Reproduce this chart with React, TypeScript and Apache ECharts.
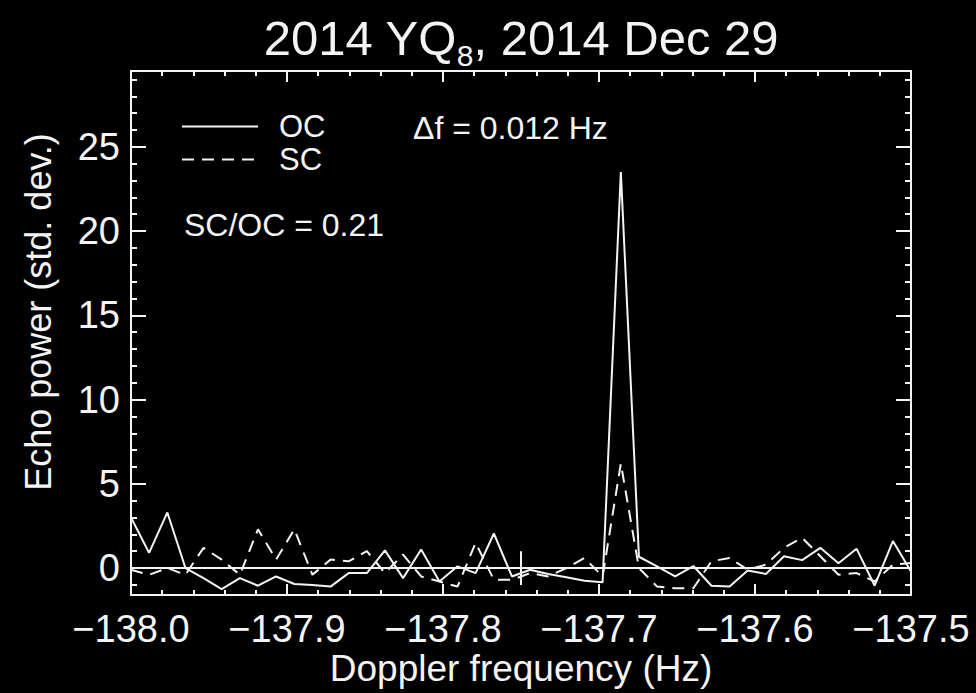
import React, { useEffect, useRef } from "react";
import * as echarts from "echarts";

// ---- texts ----
const TITLE_MAIN = "2014 YQ";
const TITLE_SUB = "8";
const TITLE_REST = ", 2014 Dec 29";
const X_NAME = "Doppler frequency (Hz)";
const Y_NAME = "Echo power (std. dev.)";
const SERIES_NAMES = ["OC", "SC"];
const NOTE_DF = "\u0394f = 0.012 Hz";
const NOTE_RATIO = "SC/OC = 0.21";

// ---- axes ----
const X_MIN = -138.0;
const X_MAX = -137.5;
const X_STEP = 0.1;
const Y_MIN = -1.6;
const Y_MAX = 29.5;
const Y_MAJOR = [0, 5, 10, 15, 20, 25];
const Y_MINOR = [-1, 1, 2, 3, 4, 6, 7, 8, 9, 11, 12, 13, 14, 16, 17, 18, 19, 21, 22, 23, 24, 26, 27, 28, 29];

// ---- data ----
const FREQ = [
  -138.0, -137.9884, -137.9767, -137.9651, -137.9535, -137.9419, -137.9302, -137.9186,
  -137.907, -137.8953, -137.8837, -137.8721, -137.8605, -137.8488, -137.8372, -137.8256,
  -137.814, -137.8023, -137.7907, -137.7791, -137.7674, -137.7558, -137.7442, -137.7326,
  -137.7209, -137.7093, -137.6977, -137.686, -137.6744, -137.6628, -137.6512, -137.6395,
  -137.6279, -137.6163, -137.6047, -137.593, -137.5814, -137.5698, -137.5581, -137.5465,
  -137.5349, -137.5233, -137.5116, -137.5,
];
const OC = [
  3.0, 0.9, 3.3, 0.0, -0.6, -1.25, -0.6, -1.05,
  -0.5, -0.95, -1.0, -1.1, -0.3, -0.3, 1.05, -0.6,
  1.1, -0.8, 0.1, -0.3, 2.05, -0.5, -0.1, -0.35,
  -0.55, -0.75, -0.85, 23.5, 0.67, 0.1, -0.5, 0.12,
  -1.05, -1.1, -0.15, -0.35, 0.7, 0.47, 1.2, 0.28,
  1.15, -1.05, 1.6, -0.2,
];
const SC = [
  -0.1, -0.4, 0.0, -0.4, 1.2, 0.5, -0.4, 2.3,
  0.5, 2.3, -0.4, 0.5, 0.4, 1.0, -0.3, 0.8,
  -0.5, -0.8, -1.1, 1.5, -0.7, -0.7, -0.3, -0.5,
  0.0, 0.6, -0.5, 6.2, 0.0, -1.1, -1.2, -1.2,
  0.4, 0.6, -0.1, 0.2, 1.2, 1.8, 0.7, -0.4,
  -0.3, -0.8, 0.2, 0.3,
];
const MARKER_FREQ = -137.75;
const MARKER_SPAN = [-1.0, 1.0];

const WHITE = "#f4f4f4";
const FONT = "'Liberation Sans', Arial, Helvetica, sans-serif";

const fmtX = (v: number) => v.toFixed(1).replace("-", "\u2212");

function xAxis(pos: "bottom" | "top", labels: boolean): any {
  return {
    type: "value",
    position: pos,
    min: X_MIN,
    max: X_MAX,
    interval: X_STEP,
    splitLine: { show: false },
    axisLine: { show: true, onZero: false, lineStyle: { color: WHITE, width: 2 } },
    axisTick: { show: true, inside: true, length: 11, lineStyle: { color: WHITE, width: 2 } },
    minorTick: { show: true, splitNumber: 5, length: 5, lineStyle: { color: WHITE, width: 2 } },
    axisLabel: {
      show: labels,
      color: WHITE,
      fontSize: 38,
      fontFamily: FONT,
      margin: 15,
      formatter: fmtX,
    },
    name: labels ? X_NAME : "",
    nameLocation: "middle",
    nameGap: 55,
    nameMoveOverlap: false,
    nameTextStyle: { color: WHITE, fontSize: 37, fontFamily: FONT },
  };
}

function yAxis(pos: "left" | "right", major: boolean, labels: boolean): any {
  const ticks = major ? Y_MAJOR : Y_MINOR;
  return {
    type: "value",
    position: pos,
    min: Y_MIN,
    max: Y_MAX,
    splitLine: { show: false },
    axisLine: { show: major, onZero: false, lineStyle: { color: WHITE, width: 2 } },
    axisTick: {
      show: true,
      inside: true,
      customValues: ticks,
      length: major ? 15 : 6,
      lineStyle: { color: WHITE, width: 2 },
    },
    axisLabel: {
      show: labels,
      customValues: ticks,
      color: WHITE,
      fontSize: 38,
      fontFamily: FONT,
      margin: 11,
    },
    name: labels ? Y_NAME : "",
    nameLocation: "middle",
    nameRotate: 90,
    nameGap: 75,
    nameMoveOverlap: false,
    nameTextStyle: { color: WHITE, fontSize: 36, fontFamily: FONT, padding: [0, 0, 0, 42] },
  };
}

export default function App() {
  const ref = useRef<HTMLDivElement>(null);
  useEffect(() => {
    document.body.style.margin = "0";
    document.body.style.background = "#000";
    const chart = echarts.init(ref.current as HTMLDivElement, undefined, { renderer: "svg" });
    chart.setOption({
      animation: false,
      backgroundColor: "#000",
      title: {
        text: `${TITLE_MAIN}{sub|${TITLE_SUB}}${TITLE_REST}`,
        left: 516,
        top: 1,
        textAlign: "center",
        textStyle: {
          color: WHITE,
          fontSize: 49,
          fontWeight: "normal",
          fontFamily: FONT,
          rich: {
            sub: { color: WHITE, fontSize: 30, fontFamily: FONT, padding: [34, 0, 0, 0] },
          },
        },
      },
      grid: {
        left: 131,
        top: 71,
        width: 780,
        height: 524,
        containLabel: false,
        outerBoundsMode: "none",
      },
      xAxis: [xAxis("bottom", true), xAxis("top", false)],
      yAxis: [
        yAxis("left", true, true),
        yAxis("left", false, false),
        yAxis("right", true, false),
        yAxis("right", false, false),
      ],
      legend: {
        data: SERIES_NAMES,
        orient: "vertical",
        left: 181,
        top: 111,
        itemWidth: 76,
        itemHeight: 12,
        itemGap: 2,
        padding: 0,
        selectedMode: false,
        itemStyle: { color: "rgba(0,0,0,0)", borderColor: "rgba(0,0,0,0)", borderWidth: 0, opacity: 0 },
        lineStyle: { opacity: 1 },
        textStyle: { color: WHITE, fontSize: 31, fontFamily: FONT, padding: [0, 0, 0, 16] },
      },
      graphic: [
        {
          type: "text",
          x: 413,
          y: 128,
          style: { text: NOTE_DF, fill: WHITE, fontSize: 32, fontFamily: FONT, verticalAlign: "middle" },
        },
        {
          type: "text",
          x: 184,
          y: 225,
          style: { text: NOTE_RATIO, fill: WHITE, fontSize: 32, fontFamily: FONT, verticalAlign: "middle" },
        },
      ],
      series: [
        {
          name: SERIES_NAMES[0],
          type: "line",
          xAxisIndex: 0,
          yAxisIndex: 0,
          symbol: "none",
          data: FREQ.map((f, i) => [f, OC[i]]),
          lineStyle: { color: WHITE, width: 2, type: "solid" },
          itemStyle: { color: WHITE },
          markLine: {
            silent: true,
            symbol: ["none", "none"],
            label: { show: false },
            lineStyle: { color: WHITE, width: 2, type: "solid" },
            data: [
              { yAxis: 0 },
              [{ coord: [MARKER_FREQ, MARKER_SPAN[0]] }, { coord: [MARKER_FREQ, MARKER_SPAN[1]] }],
            ],
          },
        },
        {
          name: SERIES_NAMES[1],
          type: "line",
          xAxisIndex: 0,
          yAxisIndex: 0,
          symbol: "none",
          data: FREQ.map((f, i) => [f, SC[i]]),
          lineStyle: { color: WHITE, width: 2, type: [12, 8] },
          itemStyle: { color: WHITE },
        },
      ],
    });
    return () => chart.dispose();
  }, []);
  return (
    <div
      ref={ref}
      style={{ position: "fixed", left: 0, top: 0, width: 976, height: 693, background: "#000" }}
    />
  );
}
